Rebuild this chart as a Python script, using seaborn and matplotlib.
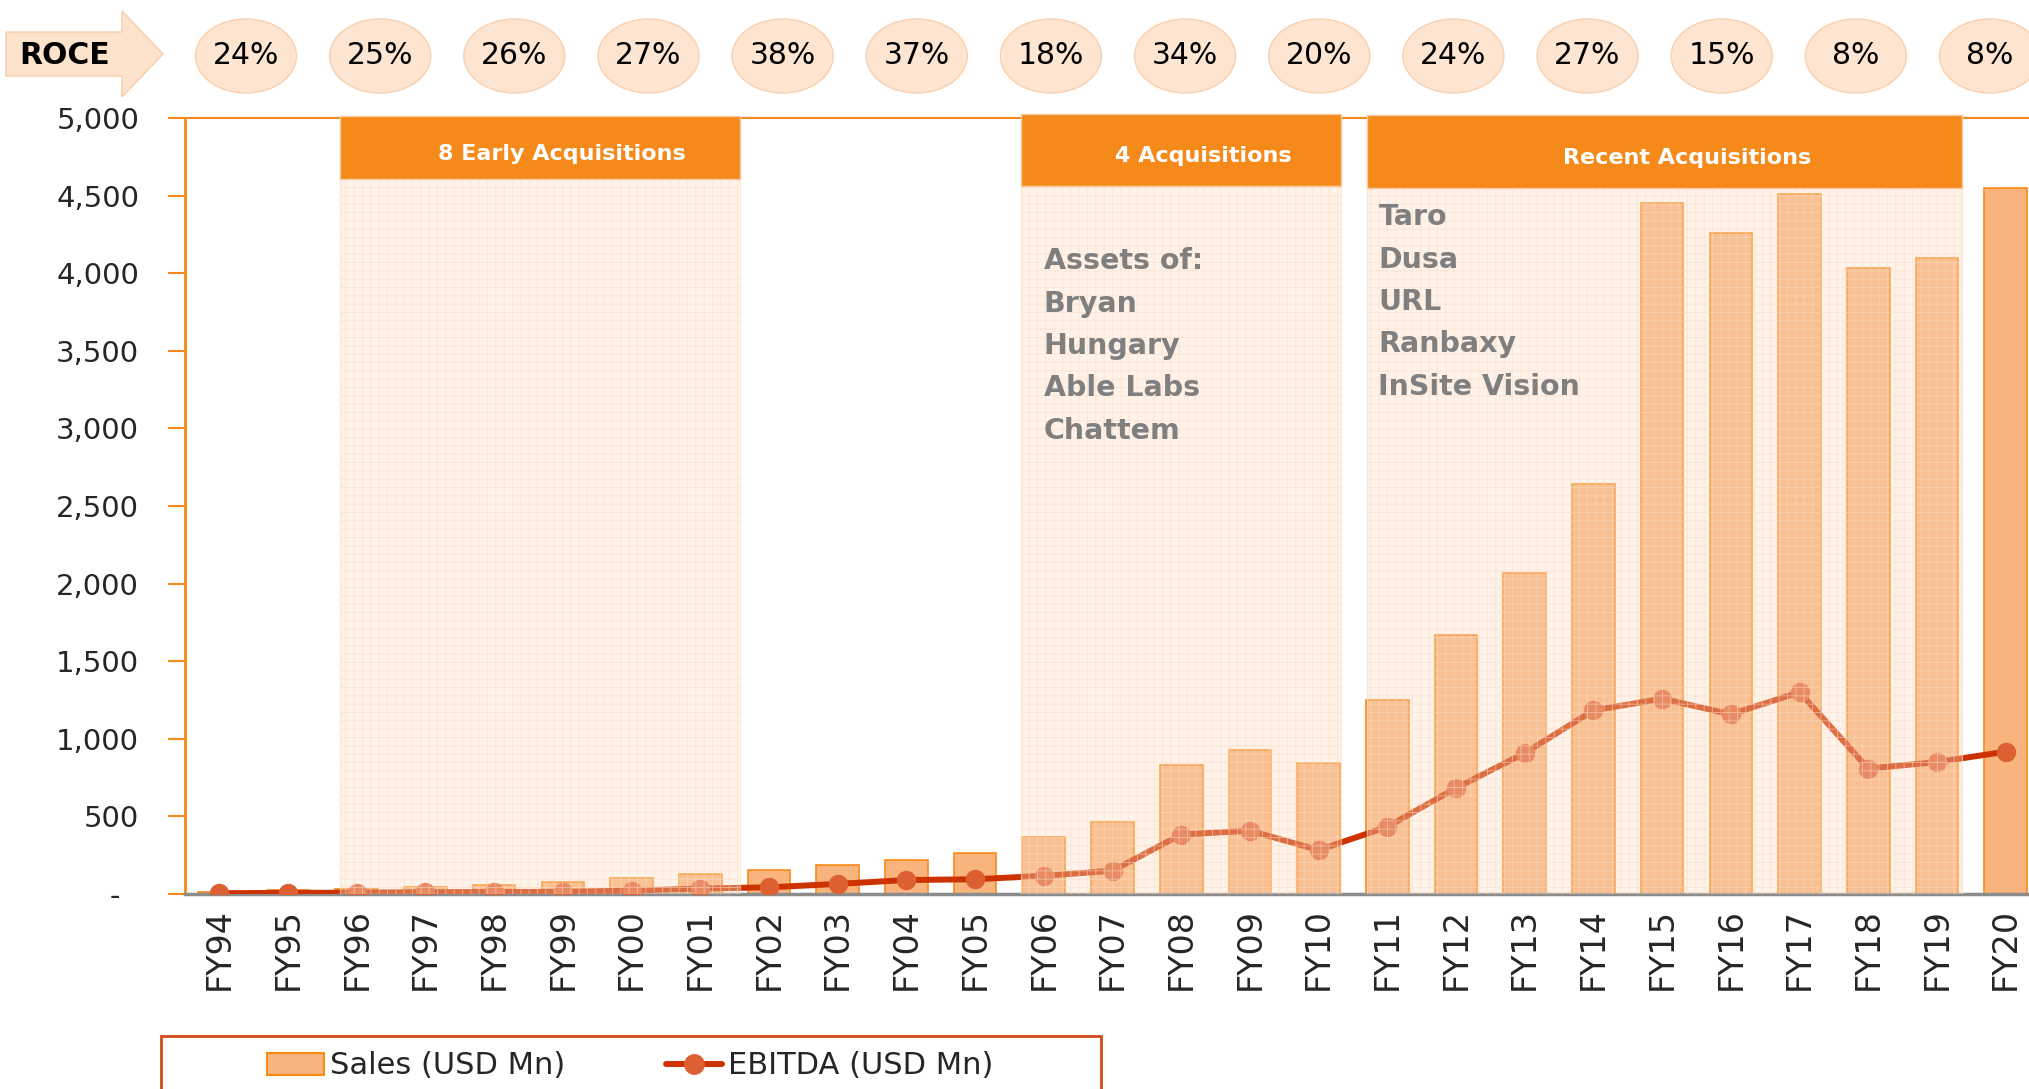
import numpy as np
import matplotlib
matplotlib.use("Agg")
import matplotlib.pyplot as plt
import seaborn as sns
from matplotlib.patches import Rectangle, Ellipse, Polygon, Patch
from matplotlib.lines import Line2D

# Data
years = ['FY94', 'FY95', 'FY96', 'FY97', 'FY98', 'FY99', 'FY00', 'FY01', 'FY02',
         'FY03', 'FY04', 'FY05', 'FY06', 'FY07', 'FY08', 'FY09', 'FY10', 'FY11',
         'FY12', 'FY13', 'FY14', 'FY15', 'FY16', 'FY17', 'FY18', 'FY19', 'FY20']
sales = [15, 26, 32, 43, 58, 80, 101, 129, 155, 187, 220, 267, 367, 467, 833,
         925, 842, 1250, 1667, 2067, 2642, 4450, 4258, 4508, 4033, 4100, 4550]
ebitda = [5, 7, 9, 12, 13, 14, 22, 35, 43, 65, 90, 95, 117, 150, 383,
          408, 283, 433, 683, 908, 1183, 1258, 1158, 1300, 808, 850, 917]
roce = ['24%', '25%', '26%', '27%', '38%', '37%', '18%', '34%', '20%',
        '24%', '27%', '15%', '8%', '8%']

group_titles = ['8 Early Acquisitions', '4 Acquisitions', 'Recent Acquisitions']
group_notes = ['', 'Assets of:\nBryan\nHungary\nAble Labs\nChattem',
               'Taro\nDusa\nURL\nRanbaxy\nInSite Vision']

# layout of the three highlight boxes (x range in category units, header bottom/top)
group_span = [(1.75, 7.58), (11.67, 16.32), (16.71, 25.37)]
header_y = [(4607, 5013), (4562, 5026), (4549, 5019)]
note_pos = [None, (12.0, 3531), (16.87, 3815)]

bar_fill = '#F8B47C'
bar_edge = '#F88A18'
line_col = '#CC3300'
marker_col = '#DD6033'
orange = '#F58A1A'
grey_txt = '#7F7F7F'

sns.set_theme(style='white')
plt.rcParams['font.family'] = ['DejaVu Sans']
plt.rcParams['hatch.linewidth'] = 0.7

W, H = 2029, 1089
fig = plt.figure(figsize=(W / 100, H / 100), dpi=100)


def fx(px):
    return px / W


def fy(py):
    return 1 - py / H


ax = fig.add_axes([fx(185), fy(894), (2040 - 185) / W, (894 - 118) / H])

n = len(years)
sns.barplot(x=years, y=sales, color=bar_fill, saturation=1, width=0.62,
            edgecolor=bar_edge, linewidth=1.2, ax=ax, zorder=2)
sns.lineplot(x=np.arange(n), y=ebitda, color=line_col, linewidth=4.3,
             marker='o', markersize=14, markerfacecolor=marker_col,
             markeredgecolor=marker_col, markeredgewidth=0, ax=ax, zorder=3,
             legend=False)

ax.set_xlim(-0.5, n - 0.5)
ax.set_ylim(0, 5000)
ax.set_xlabel('')
ax.set_ylabel('')

# axes styling
ax.spines['right'].set_visible(False)
ax.spines['top'].set_color(orange)
ax.spines['top'].set_linewidth(1.5)
ax.spines['left'].set_color(orange)
ax.spines['left'].set_linewidth(2)
ax.spines['bottom'].set_color('#8C8C8C')
ax.spines['bottom'].set_linewidth(2.5)

ax.set_xticks(np.arange(n))
ax.set_xticklabels(years, rotation=90, fontsize=24)
ax.set_xticks(np.arange(-0.5, n, 1), minor=True)
ax.tick_params(axis='x', which='major', length=0, pad=10)
ax.tick_params(axis='x', which='minor', length=12, width=1.5, color='#8C8C8C')

yt = np.arange(0, 5001, 500)
ax.set_yticks(yt)
ax.set_yticklabels(['-  ' if v == 0 else f'{v:,}' for v in yt], fontsize=21)
ax.tick_params(axis='y', length=12, width=1.5, color=orange, pad=21, left=True)

# highlight boxes
for (x0, x1), (hb, ht), title, note, pos in zip(group_span, header_y, group_titles,
                                                group_notes, note_pos):
    ax.add_patch(Rectangle((x0, 0), x1 - x0, hb, facecolor=(253 / 255, 220 / 255, 192 / 255, 0.35),
                           edgecolor='none', zorder=4))
    ax.add_patch(Rectangle((x0, 0), x1 - x0, hb, fill=False, hatch='++',
                           edgecolor=(0.98, 0.86, 0.76, 0.55), linewidth=1, zorder=4))
    ax.add_patch(Rectangle((x0, hb), x1 - x0, ht - hb, facecolor=orange,
                           edgecolor='#F9C9A0', linewidth=1, zorder=5, clip_on=False))
    ax.text((x0 + x1) / 2 + 0.32, (hb + ht) / 2 - 40, title, color='white', fontsize=16,
            fontweight='bold', ha='center', va='center', zorder=6, clip_on=False)
    if note:
        ax.text(pos[0], pos[1], note, color=grey_txt, fontsize=20.5, fontweight='bold',
                ha='left', va='center', linespacing=1.65, zorder=6)

# ROCE arrow and bubbles
arrow_pts = [(6, 32), (122, 32), (122, 11), (163, 54), (122, 97), (122, 76), (6, 76)]
fig.patches.append(Polygon([(fx(a), fy(b)) for a, b in arrow_pts], closed=True,
                           facecolor='#FDE3CC', edgecolor='#F8CDA8', linewidth=1,
                           transform=fig.transFigure))
fig.text(fx(19), fy(56), 'ROCE', fontsize=21.5, fontweight='bold', color='black',
         ha='left', va='center')

centers = np.linspace(246, 1990, len(roce))
for cx, label in zip(centers, roce):
    fig.patches.append(Ellipse((fx(cx), fy(56)), 101 / W, 74 / H, facecolor='#FDE5D1',
                               edgecolor='#F9CFAE', linewidth=1, transform=fig.transFigure))
    fig.text(fx(cx), fy(56), label, fontsize=21.5, color='black', ha='center', va='center')

# legend
fig.patches.append(Rectangle((fx(161), fy(1110)), (1101 - 161) / W, (1110 - 1036) / H,
                             facecolor='white', edgecolor='#D04A1A', linewidth=2,
                             transform=fig.transFigure))
handles = [Patch(facecolor=bar_fill, edgecolor=bar_edge, linewidth=1.5),
           Line2D([], [], color=line_col, linewidth=4.3, marker='o', markersize=14,
                  markerfacecolor=marker_col, markeredgecolor=marker_col)]
fig.legend(handles, ['Sales (USD Mn)', 'EBITDA (USD Mn)'], loc='center left',
           bbox_to_anchor=(fx(267), fy(1066)), ncol=2, frameon=False, fontsize=22,
           handlelength=1.85, handleheight=0.75, handletextpad=0.2, columnspacing=3.3,
           borderpad=0, borderaxespad=0)

fig.savefig('out.png', dpi=100)
